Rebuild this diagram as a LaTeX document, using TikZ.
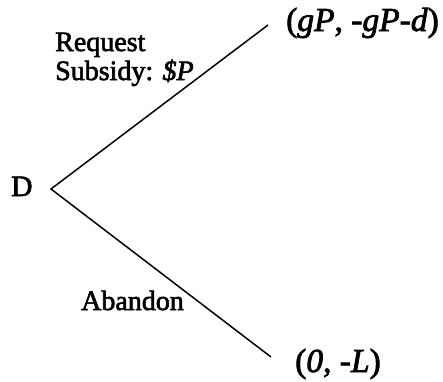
\documentclass[tikz,border=0pt]{standalone}
\usepackage{fontspec}
\setmainfont[FakeBold=2.2]{Liberation Serif}
\begin{document}
\begin{tikzpicture}[x=1pt,y=-1pt,
  lbl/.style={inner sep=0pt,font=\fontsize{28}{32}\selectfont},
  pay/.style={inner sep=0pt,font=\fontsize{33.5}{38}\selectfont},
  branch/.style={line width=1.5pt}]
\useasboundingbox (0,0) rectangle (443,381);
% decision node and the two terminal points
\coordinate (root) at (51,189);
\coordinate (up) at (268,25);
\coordinate (down) at (271,357);
\node[lbl,anchor=base west,font=\fontsize{29.5}{32}\selectfont] (D) at (11,196) {D};
\draw[branch] (up) -- (root) -- (down);
% payoffs
\node[pay,anchor=base west] (pay1) at (286,31) {(\textit{gP}, -\textit{gP}-\textit{d})};
\node[pay,anchor=base west] (pay2) at (295,372) {(\textit{0}, -\textit{L})};
% action labels
\node[lbl,anchor=base west] (req) at (55,51) {Request};
\node[lbl,anchor=base west] (sub) at (55,80) {Subsidy: \textit{\$P}};
\node[lbl,anchor=base west] (ab) at (81,310) {Abandon};
\end{tikzpicture}
\end{document}
